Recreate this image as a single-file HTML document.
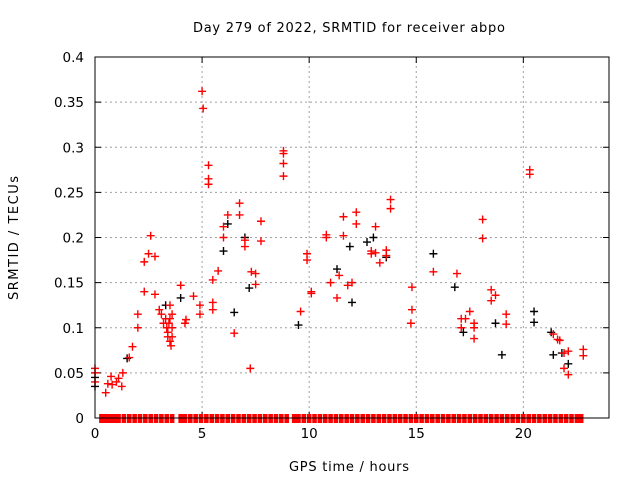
<!DOCTYPE html>
<html><head><meta charset="utf-8"><style>
body{margin:0;background:#fff}
svg{display:block;font-family:"DejaVu Sans","Liberation Sans",sans-serif}
</style></head><body>
<svg id="c" width="640" height="480" viewBox="0 0 640 480">
<rect width="640" height="480" fill="#fff"/>
<text x="349" y="32" font-size="13" text-anchor="middle" textLength="312">Day 279 of 2022, SRMTID for receiver abpo</text>
<text x="349" y="471" font-size="13" text-anchor="middle" textLength="120">GPS time / hours</text>
<text transform="translate(18,238) rotate(-90)" font-size="13" text-anchor="middle" textLength="124">SRMTID / TECUs</text>
<g id="grid"></g><g id="ticks"></g><g id="marks"></g>
<rect x="95" y="57" width="514" height="361" fill="none" stroke="#000" stroke-width="1"/>
</svg>
<script>
const xTicks=[0,5,10,15,20];
const yTicks=[0,0.05,0.1,0.15,0.2,0.25,0.3,0.35,0.4];
const yTickLabels=["0","0.05","0.1","0.15","0.2","0.25","0.3","0.35","0.4"];
const redT=[0,0,0,0.5,0.6,0.75,0.8,1.0,1.1,1.25,1.3,1.6,1.75,2.0,2.0,2.3,2.3,2.5,2.6,2.8,2.8,3.0,3.1,3.2,3.3,3.35,3.4,3.4,3.45,3.5,3.5,3.5,3.55,3.6,3.6,3.6,4.0,4.2,4.25,4.6,4.9,4.9,5.0,5.05,5.3,5.3,5.3,5.5,5.5,5.5,5.75,6.0,6.0,6.2,6.5,6.75,6.75,7.0,7.0,7.25,7.3,7.5,7.5,7.75,7.75,8.8,8.8,8.8,8.8,9.6,9.9,9.9,10.1,10.1,10.8,10.8,11.0,11.3,11.4,11.6,11.6,11.8,12.0,12.2,12.2,12.9,12.9,13.1,13.1,13.3,13.6,13.6,13.8,13.8,14.8,14.8,14.75,15.8,16.9,17.1,17.1,17.3,17.5,17.7,17.7,17.7,18.1,18.1,18.5,18.5,18.7,19.2,19.2,20.3,20.3,21.4,21.6,21.7,21.9,21.9,22.1,22.1,22.8,22.8];
const redV=[0.055,0.05,0.04,0.028,0.038,0.046,0.037,0.04,0.044,0.035,0.05,0.067,0.079,0.1,0.115,0.14,0.173,0.182,0.202,0.179,0.137,0.12,0.115,0.105,0.11,0.1,0.095,0.09,0.105,0.125,0.085,0.11,0.08,0.1,0.09,0.115,0.147,0.105,0.109,0.135,0.125,0.115,0.362,0.343,0.28,0.265,0.259,0.128,0.12,0.153,0.163,0.2,0.212,0.225,0.094,0.238,0.225,0.19,0.197,0.055,0.162,0.16,0.148,0.218,0.196,0.296,0.293,0.282,0.268,0.118,0.182,0.175,0.14,0.138,0.203,0.2,0.15,0.133,0.158,0.223,0.202,0.147,0.15,0.228,0.215,0.185,0.182,0.212,0.183,0.172,0.186,0.18,0.242,0.232,0.145,0.12,0.105,0.162,0.16,0.11,0.1,0.11,0.118,0.105,0.1,0.088,0.22,0.199,0.142,0.13,0.136,0.115,0.104,0.275,0.27,0.093,0.087,0.086,0.072,0.055,0.048,0.074,0.076,0.069];
const blackT=[0,0,1.5,3.3,4.0,6.0,6.2,6.5,7.0,7.2,9.5,11.3,11.9,12.0,12.7,13.0,13.6,15.8,16.8,17.2,18.7,19.0,20.5,20.5,21.3,21.4,22.1,21.8];
const blackV=[0.045,0.035,0.066,0.125,0.133,0.185,0.215,0.117,0.2,0.144,0.103,0.165,0.19,0.128,0.195,0.2,0.178,0.182,0.145,0.095,0.105,0.07,0.118,0.106,0.095,0.07,0.06,0.072];
const zeroT=[0.3,0.45,0.6,0.75,0.9,1.1,1.35,1.6,1.85,2.1,2.35,2.6,2.85,3.1,3.35,3.6,4.0,4.2,4.45,4.7,4.95,5.2,5.45,5.7,5.95,6.2,6.45,6.7,6.95,7.2,7.45,7.7,7.95,8.2,8.45,8.7,8.95,9.3,9.5,9.75,10.0,10.25,10.5,10.75,11.0,11.25,11.5,11.75,12.0,12.25,12.5,12.75,13.0,13.25,13.5,13.75,14.0,14.25,14.5,14.75,15.0,15.25,15.5,15.75,16.0,16.25,16.5,16.75,17.0,17.25,17.5,17.75,18.0,18.25,18.5,18.75,19.0,19.25,19.5,19.75,20.0,20.25,20.5,20.75,21.0,21.25,21.5,21.75,22.0,22.25,22.5,22.7];
const NS='http://www.w3.org/2000/svg';
const X0=95,X1=609,Y0=418,Y1=57,XMAX=24,YMAX=0.4;
const sx=t=>X0+t/XMAX*(X1-X0), sy=v=>Y0-v/YMAX*(Y0-Y1);
const grid=document.getElementById('grid'),ticks=document.getElementById('ticks'),marks=document.getElementById('marks');
function mk(tag,a,p){const e=document.createElementNS(NS,tag);for(const k in a)e.setAttribute(k,a[k]);p.appendChild(e);return e;}
yTicks.forEach((v,i)=>{const y=sy(v);
 if(v>0&&v<YMAX){const g=mk('line',{x1:X0,x2:X1,y1:y,y2:y,stroke:'#a0a0a0','stroke-dasharray':'2,3'},grid);
 
 }
 mk('line',{x1:X0,x2:X0+6,y1:y,y2:y,stroke:'#000'},ticks);mk('line',{x1:X1,x2:X1-6,y1:y,y2:y,stroke:'#000'},ticks);
 const t=mk('text',{x:X0-11,y:y+5,'font-size':13.5,'text-anchor':'end'},ticks);t.textContent=yTickLabels[i];
 
 });
xTicks.forEach(v=>{const x=sx(v);
 if(v>0){const g=mk('line',{x1:x,x2:x,y1:Y0,y2:Y1,stroke:'#a0a0a0','stroke-dasharray':'2,3'},grid);
 
 }
 mk('line',{x1:x,x2:x,y1:Y0,y2:Y0-6,stroke:'#000'},ticks);mk('line',{x1:x,x2:x,y1:Y1,y2:Y1+6,stroke:'#000'},ticks);
 const t=mk('text',{x:x,y:Y0+20,'font-size':13.5,'text-anchor':'middle'},ticks);t.textContent=String(v);
 
 });
function plus(t,v,c,name){const x=sx(t),y=sy(v);
 const p=mk('path',{d:`M${x-4},${y}H${x+4}M${x},${y-4}V${y+4}`,stroke:c,'stroke-width':1.4,fill:'none'},marks);
 
 }
blackT.forEach((t,i)=>plus(t,blackV[i],'#000','black-point'));
redT.forEach((t,i)=>plus(t,redV[i],'#f00','red-point'));
zeroT.forEach(t=>{const x=sx(t),y=sy(0);
 const r=mk('rect',{x:x-2.3,y:y-4,width:4.6,height:9,fill:'#f00'},marks);
 
 });
</script>
</body></html>
